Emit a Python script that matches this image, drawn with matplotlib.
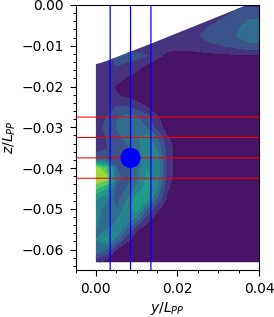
import numpy as np
import matplotlib
matplotlib.use("Agg")
import matplotlib.pyplot as plt
from matplotlib.patches import Polygon, Circle
from matplotlib.ticker import MultipleLocator

y_grid = [0.0025 * i for i in range(17)]
z_grid = [-0.0025 * i for i in range(27)]

field = np.array([
 [15,15,15,15,15,15,15,15,15,15,15,15,15,18,18,18,18],
 [15,15,15,15,15,15,15,15,15,15,15,15,17,20,24,28,28],
 [15,15,15,15,15,15,15,15,15,15,15,19,22,25,29,32,34],
 [15,15,15,15,15,15,15,15,15,15,19,23,25,27,31,36,36],
 [15,15,15,15,15,15,15,14,13,13,15,18,19,21,24,27,27],
 [14,18,22,23,23,20,12, 7, 6, 6, 6, 6, 7, 7, 8, 8, 8],
 [15,19,20,18,13, 8, 5, 5, 5, 5, 5, 5, 5, 5, 5, 5, 5],
 [15,16,14,10, 7, 5, 5, 5, 5, 5, 5, 5, 5, 5, 5, 5, 5],
 [15,13, 9, 6, 5, 5, 5, 5, 5, 5, 5, 5, 5, 5, 5, 5, 5],
 [15,14,11, 9, 6, 5, 5, 5, 5, 5, 5, 5, 5, 5, 5, 5, 5],
 [15,17,20,20,15,10, 5, 5, 5, 5, 5, 5, 5, 5, 5, 5, 5],
 [15,20,29,33,31,24,11, 5, 5, 5, 5, 5, 5, 5, 5, 5, 5],
 [15,22,30,37,38,29,15, 6, 5, 5, 5, 5, 5, 5, 5, 5, 5],
 [14,20,26,33,38,45,30,11, 5, 5, 5, 5, 5, 5, 5, 5, 5],
 [14,19,24,27,35,47,38,15, 5, 5, 5, 5, 5, 5, 5, 5, 5],
 [25,25,24,28,35,50,45,16, 5, 5, 5, 5, 5, 5, 5, 5, 5],
 [85,70,30,28,35,50,48,16, 5, 5, 5, 5, 5, 5, 5, 5, 5],
 [90,85,35,25,36,52,46,14, 5, 5, 5, 5, 5, 5, 5, 5, 5],
 [70,60,25,30,42,54,40,11, 5, 5, 5, 5, 5, 5, 5, 5, 5],
 [50,42,25,38,55,52,28, 8, 5, 5, 5, 5, 5, 5, 5, 5, 5],
 [45,35,30,45,55,30,12, 5, 5, 5, 5, 5, 5, 5, 5, 5, 5],
 [42,35,38,50,35,14, 6, 5, 5, 5, 5, 5, 5, 5, 5, 5, 5],
 [40,38,50,30,11, 6, 5, 5, 5, 5, 5, 5, 5, 5, 5, 5, 5],
 [40,52,35,12, 6, 5, 5, 5, 5, 5, 5, 5, 5, 5, 5, 5, 5],
 [38,30,10, 5, 5, 5, 5, 5, 5, 5, 5, 5, 5, 5, 5, 5, 5],
 [15, 9, 5, 5, 5, 5, 5, 5, 5, 5, 5, 5, 5, 5, 5, 5, 5],
 [ 5, 5, 5, 5, 5, 5, 5, 5, 5, 5, 5, 5, 5, 5, 5, 5, 5],
])
levels = list(range(0, 101, 10))

hull_y = [0.0, 0.0, 0.0015, 0.0037, 0.0135, 0.037, 0.04, 0.04, 0.0]
hull_z = [-0.0631, -0.0145, -0.0141, -0.0133, -0.0095, 0.0, 0.0, -0.0631, -0.0631]

red_z = [-0.0275, -0.0325, -0.0375, -0.0425]
blue_y = [0.0035, 0.0085, 0.0135]
probe_y, probe_z, probe_r = 0.0085, -0.0375, 0.0023

fig = plt.figure(figsize=(2.74, 3.17), dpi=100)
ax = fig.add_axes([75.5/274, 1-270/317, 183.5/274, 265/317])

cs = ax.contourf(y_grid, z_grid, field, levels=levels, cmap="viridis", vmin=0, vmax=100)
clip = Polygon(np.column_stack([hull_y, hull_z]), closed=True, transform=ax.transData,
               facecolor="none", edgecolor="none")
ax.add_patch(clip)
cs.set_clip_path(clip)

for z in red_z:
    ax.axhline(z, color="red", lw=0.75, snap=False, zorder=3)
for y in blue_y:
    ax.axvline(y, color="blue", lw=0.9, snap=False, zorder=3)
ax.add_patch(Circle((probe_y, probe_z), probe_r, color="blue", zorder=4))

ax.set_xlim(-0.005, 0.04)
ax.set_ylim(-0.065, 0.0)
ax.xaxis.set_major_locator(MultipleLocator(0.02))
ax.xaxis.set_minor_locator(MultipleLocator(0.005))
ax.yaxis.set_major_locator(MultipleLocator(0.01))
ax.yaxis.set_minor_locator(MultipleLocator(0.002))
ax.tick_params(which="major", labelsize=10, length=4.2, width=0.8, pad=4.5)
ax.tick_params(which="minor", length=2.4, width=0.7)
ax.set_xlabel(r"$y/L_{PP}$", fontsize=10, labelpad=3)
ax.set_ylabel(r"$z/L_{PP}$", fontsize=10, labelpad=2)
fig.savefig("out.png", dpi=100)
